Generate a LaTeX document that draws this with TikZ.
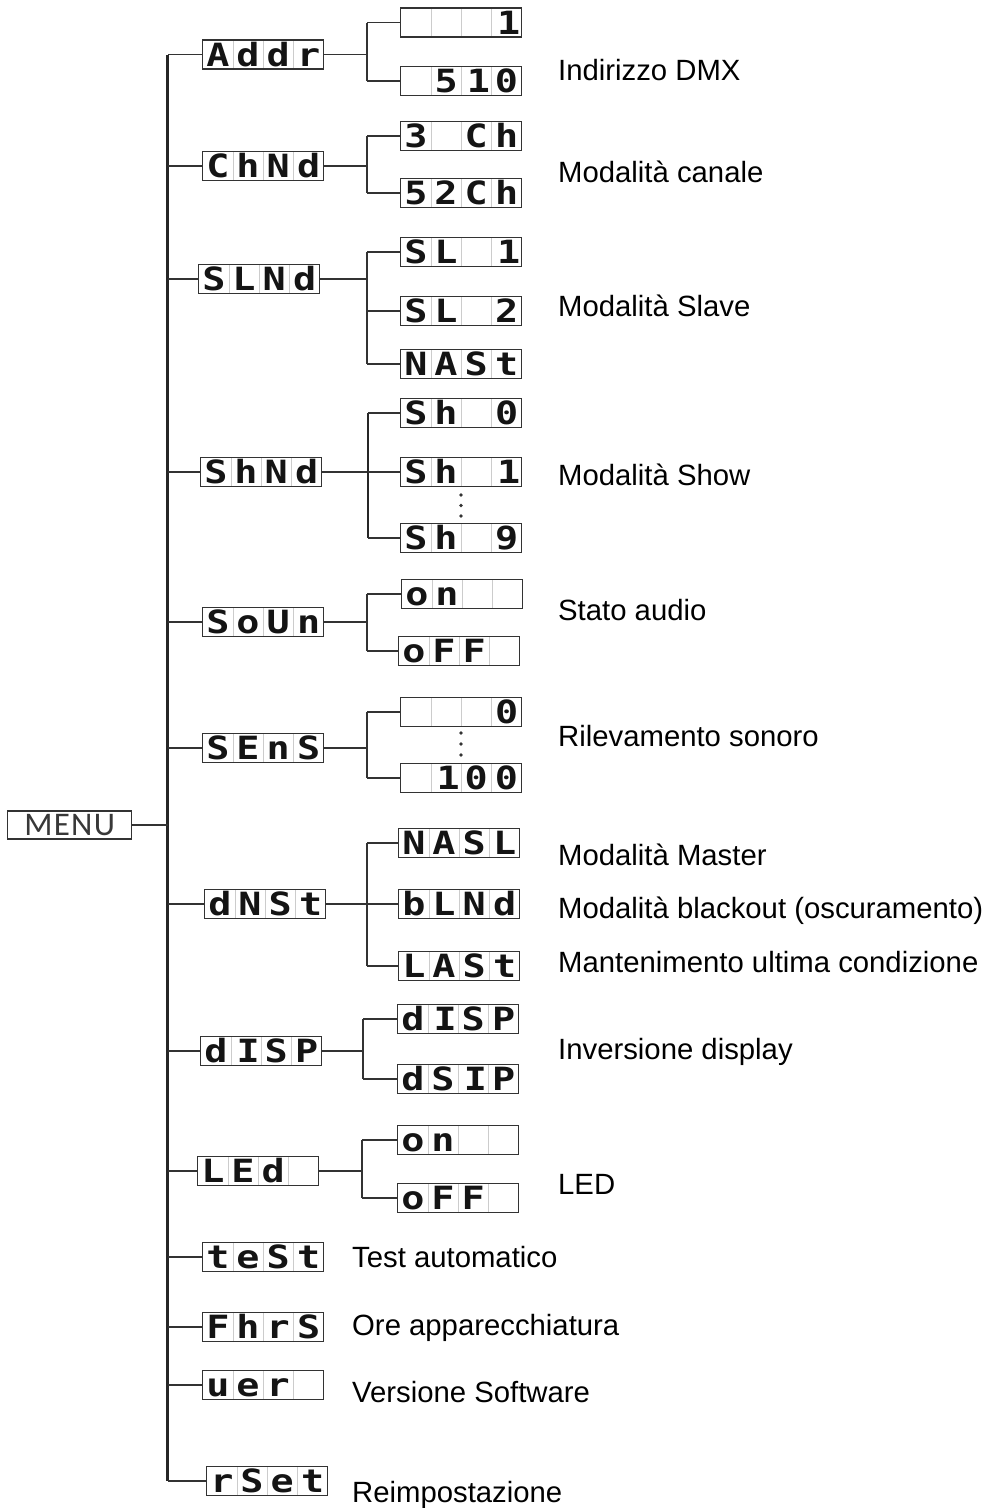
\documentclass[tikz,border=0pt]{standalone}
\usepackage{fontspec}
\setmainfont{Liberation Sans}
\newfontfamily\segfont[FakeStretch=1.2]{DejaVu Sans Mono Bold}
\newfontfamily\menufont{Carlito}
\usetikzlibrary{calc}
\newcommand\dc[4]{\makebox[30.25pt]{#1}\makebox[30.25pt]{#2}\makebox[30.25pt]{#3}\makebox[30.25pt]{#4}}
\newcommand\rt[1]{\makebox[30.25pt][r]{#1\kern1.5pt}}
\tikzset{
 seg/.style={draw=black!80, line width=1.4pt, minimum width=121pt, minimum height=29pt,
   inner sep=0pt, anchor=west, text height=25pt, text depth=1.5pt,
   font=\segfont\fontsize{32}{32}\selectfont, text=black!92,
   path picture={\foreach \f in {0.25,0.5,0.75}{\draw[black!20, line width=0.9pt]
     ($(path picture bounding box.north west)!\f!(path picture bounding box.north east)$) --
     ($(path picture bounding box.south west)!\f!(path picture bounding box.south east)$);}}},
 menubox/.style={draw=black!80, line width=1.4pt, minimum width=124pt, minimum height=28pt,
   inner sep=0pt, anchor=west, font=\menufont\fontsize{33}{33}\selectfont, text=black!78},
 lbl/.style={anchor=base west, inner sep=0pt, font=\fontsize{29.3}{31}\selectfont},
 br/.style={draw=black!80, line width=1.6pt},
 jbr/.style={draw=black!80, line width=1.8pt},
 mainline/.style={draw=black!85, line width=3pt},
 dotn/.style={circle, fill=black!80, inner sep=0pt, minimum size=3.8pt},
}
\begin{document}
\begin{tikzpicture}[x=1pt,y=-1pt]
\useasboundingbox (0,0) rectangle (987,1508);
% main
\node[menubox] (menu) at (7,825) {\addfontfeature{LetterSpace=4}MENU};
\coordinate (mx) at (167.5,0);
% level 1
\node[seg] (addr) at (202,54.5) {\dc{A}{d}{d}{r}};
\node[seg] (chnd) at (202,166) {\dc{C}{h}{N}{d}};
\node[seg] (slnd) at (198,279) {\dc{S}{L}{N}{d}};
\node[seg] (shnd) at (200,472) {\dc{S}{h}{N}{d}};
\node[seg] (soun) at (202,622) {\dc{S}{o}{U}{n}};
\node[seg] (sens) at (202,748) {\dc{S}{E}{n}{S}};
\node[seg] (dnst) at (204,904) {\dc{d}{N}{S}{t}};
\node[seg] (disp) at (200,1051) {\dc{d}{\rt{I}}{S}{P}};
\node[seg] (led) at (197,1171) {\dc{L}{E}{d}{}};
\node[seg] (test) at (202,1257) {\dc{t}{e}{S}{t}};
\node[seg] (fhrs) at (202,1327) {\dc{F}{h}{r}{S}};
\node[seg] (ver) at (202,1385) {\dc{u}{e}{r}{}};
\node[seg] (rset) at (206,1481) {\dc{r}{S}{e}{t}};
% children
\node[seg] (addr1) at (400,22.5) {\dc{}{}{}{\rt{1}}};
\node[seg] (addr2) at (400,81) {\dc{}{5}{\rt{1}}{0}};
\node[seg] (chnd1) at (400,136) {\dc{3}{}{C}{h}};
\node[seg] (chnd2) at (400,193) {\dc{5}{2}{C}{h}};
\node[seg] (slnd1) at (400,252) {\dc{S}{L}{}{\rt{1}}};
\node[seg] (slnd2) at (400,311) {\dc{S}{L}{}{2}};
\node[seg] (slnd3) at (400,364) {\dc{N}{A}{S}{t}};
\node[seg] (shnd1) at (400,413) {\dc{S}{h}{}{0}};
\node[seg] (shnd2) at (400,472) {\dc{S}{h}{}{\rt{1}}};
\node[seg] (shnd3) at (400,538) {\dc{S}{h}{}{9}};
\node[seg] (soun1) at (401,594) {\dc{o}{n}{}{}};
\node[seg] (soun2) at (398,651) {\dc{o}{F}{F}{}};
\node[seg] (sens1) at (400,712) {\dc{}{}{}{0}};
\node[seg] (sens2) at (400,778) {\dc{}{\rt{1}}{0}{0}};
\node[seg] (dnst1) at (398,843) {\dc{N}{A}{S}{L}};
\node[seg] (dnst2) at (398,904) {\dc{b}{L}{N}{d}};
\node[seg] (dnst3) at (398,966) {\dc{L}{A}{S}{t}};
\node[seg] (disp1) at (397,1019) {\dc{d}{\rt{I}}{S}{P}};
\node[seg] (disp2) at (397,1079) {\dc{d}{S}{\rt{I}}{P}};
\node[seg] (led1) at (397,1140) {\dc{o}{n}{}{}};
\node[seg] (led2) at (397,1198) {\dc{o}{F}{F}{}};
% dots
\node[dotn] (sd1) at (461,495) {};
\node[dotn] (sd2) at (461,505.5) {};
\node[dotn] (sd3) at (461,516) {};
\node[dotn] (ed1) at (461,733) {};
\node[dotn] (ed2) at (461,744) {};
\node[dotn] (ed3) at (461,755) {};
% main line and branches
\draw[mainline] (addr.west -| mx) -- (rset.west -| mx);
\draw[br] (menu.east) -- (menu.east -| mx);
\foreach \n in {addr,chnd,slnd,shnd,soun,sens,dnst,disp,led,test,fhrs,ver,rset}
  \draw[br] (\n.west) -- (\n.west -| mx);
% junctions
\coordinate (ja) at (367,0);
\coordinate (js) at (368,0);
\coordinate (jd) at (363,0);
\coordinate (jl) at (362,0);
\foreach \p/\j/\a/\b in {addr/ja/addr1/addr2, chnd/ja/chnd1/chnd2, slnd/ja/slnd1/slnd3,
   soun/ja/soun1/soun2, sens/ja/sens1/sens2, dnst/ja/dnst1/dnst3, disp/jd/disp1/disp2, led/jl/led1/led2}{
  \draw[br] (\p.east) -- (\p.east -| \j);
  \draw[jbr] (\a.west -| \j) -- (\b.west -| \j);
}
\draw[br] (shnd.east) -- (shnd.east -| js);
\draw[mainline, line width=2.6pt] (shnd1.west -| js) -- (shnd3.west -| js);
\foreach \c/\j in {addr1/ja,addr2/ja,chnd1/ja,chnd2/ja,slnd1/ja,slnd2/ja,slnd3/ja,
   shnd1/js,shnd2/js,shnd3/js,soun1/ja,soun2/ja,sens1/ja,sens2/ja,
   dnst1/ja,dnst2/ja,dnst3/ja,disp1/jd,disp2/jd,led1/jl,led2/jl}
  \draw[br] (\c.west -| \j) -- (\c.west);
% labels
\node[lbl] (l1) at (558,80) {Indirizzo DMX};
\node[lbl] (l2) at (558,182) {Modalità canale};
\node[lbl] (l3) at (558,316) {Modalità Slave};
\node[lbl] (l4) at (558,485) {Modalità Show};
\node[lbl] (l5) at (558,620) {Stato audio};
\node[lbl] (l6) at (558,746) {Rilevamento sonoro};
\node[lbl] (l7) at (558,865) {Modalità Master};
\node[lbl] (l8) at (558,918) {Modalità blackout (oscuramento)};
\node[lbl] (l9) at (558,972) {Mantenimento ultima condizione};
\node[lbl] (l10) at (558,1059) {Inversione display};
\node[lbl] (l11) at (558,1194) {LED};
\node[lbl] (l12) at (352,1267) {Test automatico};
\node[lbl] (l13) at (352,1335) {Ore apparecchiatura};
\node[lbl] (l14) at (352,1402) {Versione Software};
\node[lbl] (l15) at (352,1502) {Reimpostazione};
\end{tikzpicture}
\end{document}
